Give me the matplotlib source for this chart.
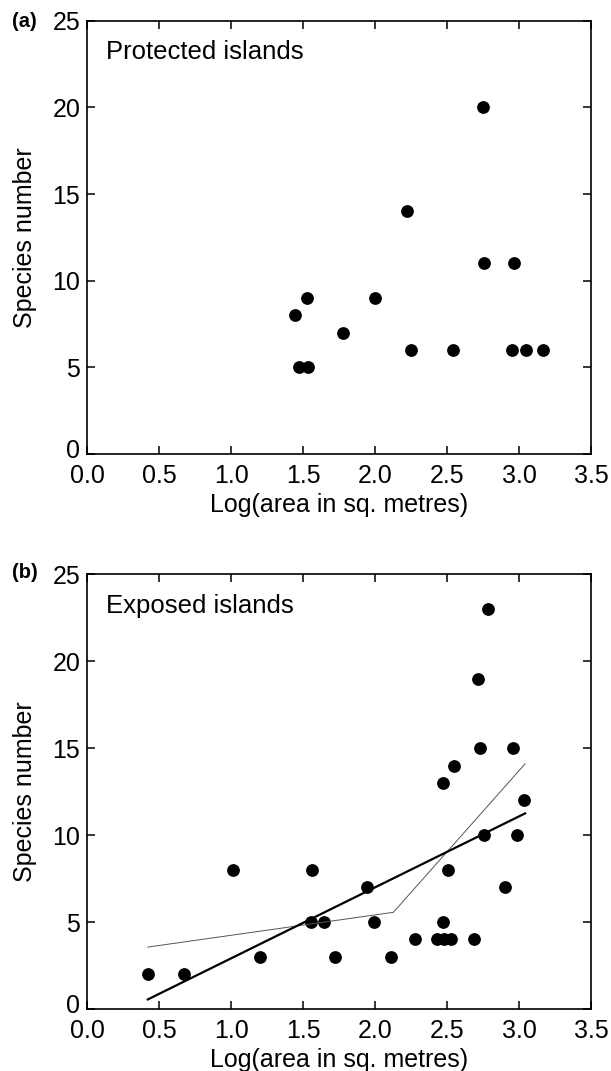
import matplotlib
matplotlib.use("Agg")
import matplotlib.pyplot as plt
from matplotlib.transforms import ScaledTranslation

# ----------------------------------------------------------
# DATOS
# ----------------------------------------------------------
protegidas_x = [1.445, 1.47, 1.535, 1.526, 1.774, 1.995, 2.218, 2.246,
                2.537, 2.746, 2.755, 2.965, 2.947, 3.044, 3.165]
protegidas_y = [8, 5, 5, 9, 7, 9, 14, 6, 6, 20, 11, 11, 6, 6, 6]

expuestas_x = [0.42, 0.67, 1.01, 1.20, 1.55, 1.56, 1.64, 1.72, 1.94, 1.99,
               2.11, 2.276, 2.426, 2.477, 2.526, 2.473, 2.473, 2.505, 2.547,
               2.688, 2.711, 2.725, 2.783, 2.755, 2.903, 2.956, 2.984, 3.033]
expuestas_y = [2, 2, 8, 3, 5, 8, 5, 3, 7, 5,
               3, 4, 4, 4, 4, 5, 13, 8, 14,
               4, 19, 15, 23, 10, 7, 15, 10, 12]

# recta de regresión (gruesa) y ajuste por tramos (fina)
recta_x = [0.42, 3.04]
recta_y = [0.55, 11.25]
tramos_x = [0.42, 2.125, 3.04]
tramos_y = [3.56, 5.56, 14.1]

xticks = [0.0, 0.5, 1.0, 1.5, 2.0, 2.5, 3.0, 3.5]
yticks = [0, 5, 10, 15, 20, 25]

# ----------------------------------------------------------
# ESTILO
# ----------------------------------------------------------
plt.rcParams["font.family"] = ["Liberation Sans", "DejaVu Sans"]
plt.rcParams["font.size"] = 18

figura = plt.figure(figsize=(6.11, 10.71), dpi=100)
eje_a = figura.add_axes([0.1429, 0.5761, 0.825, 0.4046])
eje_b = figura.add_axes([0.1429, 0.0579, 0.825, 0.4059])

paneles = [
    (eje_a, protegidas_x, protegidas_y, "Protected islands", "(a)", 0.997),
    (eje_b, expuestas_x, expuestas_y, "Exposed islands", "(b)", 1.004),
]

for eje, xs, ys, titulo, letra, y_letra in paneles:
    eje.plot(xs, ys, "o", color="black", markersize=9.2, markeredgewidth=0)
    eje.set_xlim(0, 3.5)
    eje.set_ylim(0, 25)
    eje.set_xticks(xticks)
    eje.set_xticklabels([f"{v:.1f}" for v in xticks])
    eje.set_yticks(yticks)
    eje.tick_params(direction="in", length=6, width=1.1, top=True, right=True,
                    labelsize=18)
    eje.tick_params(axis="x", pad=7)
    eje.tick_params(axis="y", pad=5)
    for lado in eje.spines.values():
        lado.set_linewidth(1.2)
    eje.set_xlabel("Log(area in sq. metres)", fontsize=18, va="top")
    eje.xaxis.set_label_coords(0.5, -0.09)
    eje.set_ylabel("Species number", fontsize=18)
    eje.yaxis.set_label_coords(-0.10, 0.5)
    eje.text(0.038, 0.955, titulo, transform=eje.transAxes, fontsize=18.5,
             va="top", ha="left")
    eje.text(-0.149, y_letra, letra, transform=eje.transAxes, fontsize=14.5,
             fontweight="bold", va="center", ha="left")

    # el "0" del eje y va algo más arriba para no chocar con "0.0"
    etiqueta_cero = eje.yaxis.get_major_ticks()[0].label1
    etiqueta_cero.set_transform(
        etiqueta_cero.get_transform()
        + ScaledTranslation(0, 4 / 72, figura.dpi_scale_trans)
    )

eje_b.plot(tramos_x, tramos_y, color="#555555", linewidth=0.7)
eje_b.plot(recta_x, recta_y, color="black", linewidth=1.6)

figura.savefig("out.png", dpi=100)
